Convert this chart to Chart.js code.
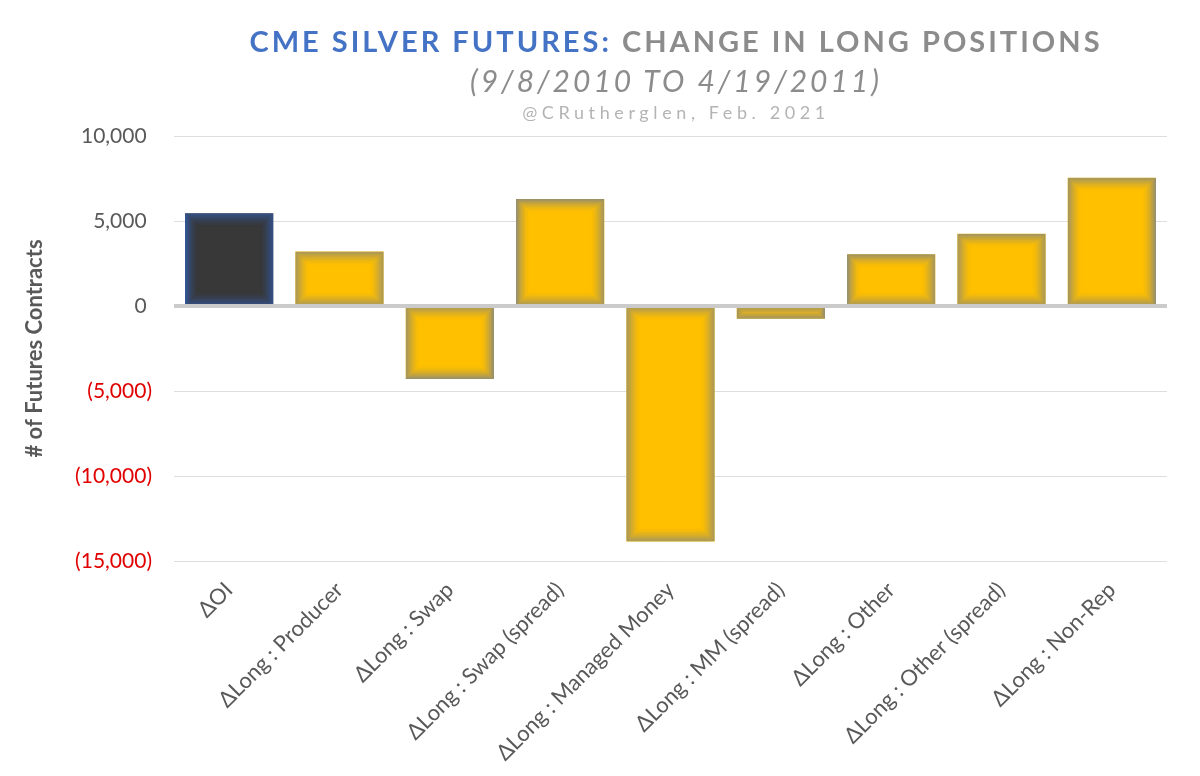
<!DOCTYPE html>
<html>
<head>
<meta charset="utf-8">
<script src="https://cdn.jsdelivr.net/npm/chart.js@4.4.1/dist/chart.umd.min.js"></script>
<style>
  html, body { margin: 0; padding: 0; background: #ffffff; }
  #wrap { position: relative; width: 1200px; height: 776px; }
  #chart { position: absolute; left: 0; top: 0; }
  .t { position: absolute; left: 0; width: 1352px; text-align: center; white-space: nowrap; font-family: Lato, "Open Sans", sans-serif; }
  #t1 { top: 23px; font-size: 29px; font-weight: 700; letter-spacing: 3.0px; color: #8c8c8c; }
  #t1 .blue { color: #4472C4; }
  #t2 { top: 62px; font-size: 30px; font-style: italic; letter-spacing: 3.0px; color: #8c8c8c; }
  #t3 { top: 101px; font-size: 18px; letter-spacing: 4.6px; color: #b4b4b4; }
</style>
</head>
<body>
<div id="wrap">
  <canvas id="chart" width="1200" height="776"></canvas>
  <div class="t" id="t1"><span class="blue">CME SILVER FUTURES:</span> CHANGE IN LONG POSITIONS</div>
  <div class="t" id="t2">(9/8/2010 TO 4/19/2011)</div>
  <div class="t" id="t3">@CRutherglen, Feb. 2021</div>
</div>
<script>
const categories = ['ΔOI', 'ΔLong : Producer', 'ΔLong : Swap', 'ΔLong : Swap (spread)', 'ΔLong : Managed Money', 'ΔLong : MM (spread)', 'ΔLong : Other', 'ΔLong : Other (spread)', 'ΔLong : Non-Rep'];
const changeValues = [5450, 3200, -4300, 6300, -13850, -750, 3050, 4250, 7550];
const yTickMin = -15000;
const yTickMax = 10000;
const yTickStep = 5000;

const fillColors = categories.map((c, i) => i === 0 ? '#383838' : '#FFC000');
const edgeRGB = categories.map((c, i) => i === 0 ? [52, 90, 160] : [140, 138, 120]);

const glowPlugin = {
  id: 'glow',
  afterDatasetsDraw(chart) {
    const ctx = chart.ctx;
    const meta = chart.getDatasetMeta(0);
    const maxDepth = 14;
    meta.data.forEach((bar, i) => {
      const p = bar.getProps(['x', 'y', 'base', 'width'], true);
      const left = p.x - p.width / 2;
      const top = Math.min(p.y, p.base);
      const h = Math.abs(p.base - p.y);
      const w = p.width;
      const [r, g, b] = edgeRGB[i];
      const depth = Math.min(maxDepth, Math.floor(Math.min(w, h) / 2));
      ctx.save();
      ctx.beginPath();
      ctx.rect(left, top, w, h);
      ctx.clip();
      for (let k = 0; k < depth; k++) {
        const a = 0.95 * Math.pow(1 - k / maxDepth, 1.8);
        ctx.strokeStyle = `rgba(${r},${g},${b},${a})`;
        ctx.lineWidth = 1;
        ctx.strokeRect(left + k + 0.5, top + k + 0.5, w - 2 * k - 1, h - 2 * k - 1);
      }
      ctx.restore();
    });
    const ys = chart.scales.y;
    const y0 = ys.getPixelForValue(0);
    ctx.save();
    ctx.strokeStyle = '#cbcbcb';
    ctx.lineWidth = 4;
    ctx.beginPath();
    ctx.moveTo(chart.chartArea.left, y0);
    ctx.lineTo(chart.chartArea.right, y0);
    ctx.stroke();
    ctx.restore();
  }
};

function fmt(v) {
  const s = Math.abs(v).toLocaleString('en-US');
  if (v < 0) return '(' + s + ')';
  return s + ' ';
}

new Chart(document.getElementById('chart'), {
  type: 'bar',
  data: {
    labels: categories,
    datasets: [{
      data: changeValues,
      backgroundColor: fillColors,
      borderWidth: 0,
      categoryPercentage: 0.8,
      barPercentage: 1.0
    }]
  },
  options: {
    responsive: false,
    animation: false,
    devicePixelRatio: 1,
    layout: { padding: { top: 136, left: 20, right: 33, bottom: 0 } },
    plugins: { legend: { display: false }, tooltip: { enabled: false }, title: { display: false } },
    scales: {
      x: {
        afterFit(scale) { scale.height = 215; },
        grid: { display: false, drawTicks: false },
        border: { display: false },
        ticks: {
          autoSkip: false,
          maxRotation: 45,
          minRotation: 45,
          padding: 16,
          color: '#595959',
          font: { family: 'Lato', size: 22 }
        }
      },
      y: {
        min: yTickMin,
        max: yTickMax,
        afterFit(scale) { scale.width = 154; },
        grid: { color: '#dedede', lineWidth: 1, drawTicks: false },
        border: { display: false },
        ticks: {
          stepSize: yTickStep,
          padding: 22,
          color: (ctx) => ctx.tick.value < 0 ? '#E00000' : '#595959',
          font: { family: 'Lato', size: 21 },
          callback: (v) => fmt(v)
        },
        title: {
          display: true,
          text: '# of Futures Contracts',
          color: '#595959',
          padding: { top: 2, bottom: 0 },
          font: { family: 'Lato', size: 22, weight: 'bold' }
        }
      }
    }
  },
  plugins: [glowPlugin]
});
</script>
</body>
</html>
